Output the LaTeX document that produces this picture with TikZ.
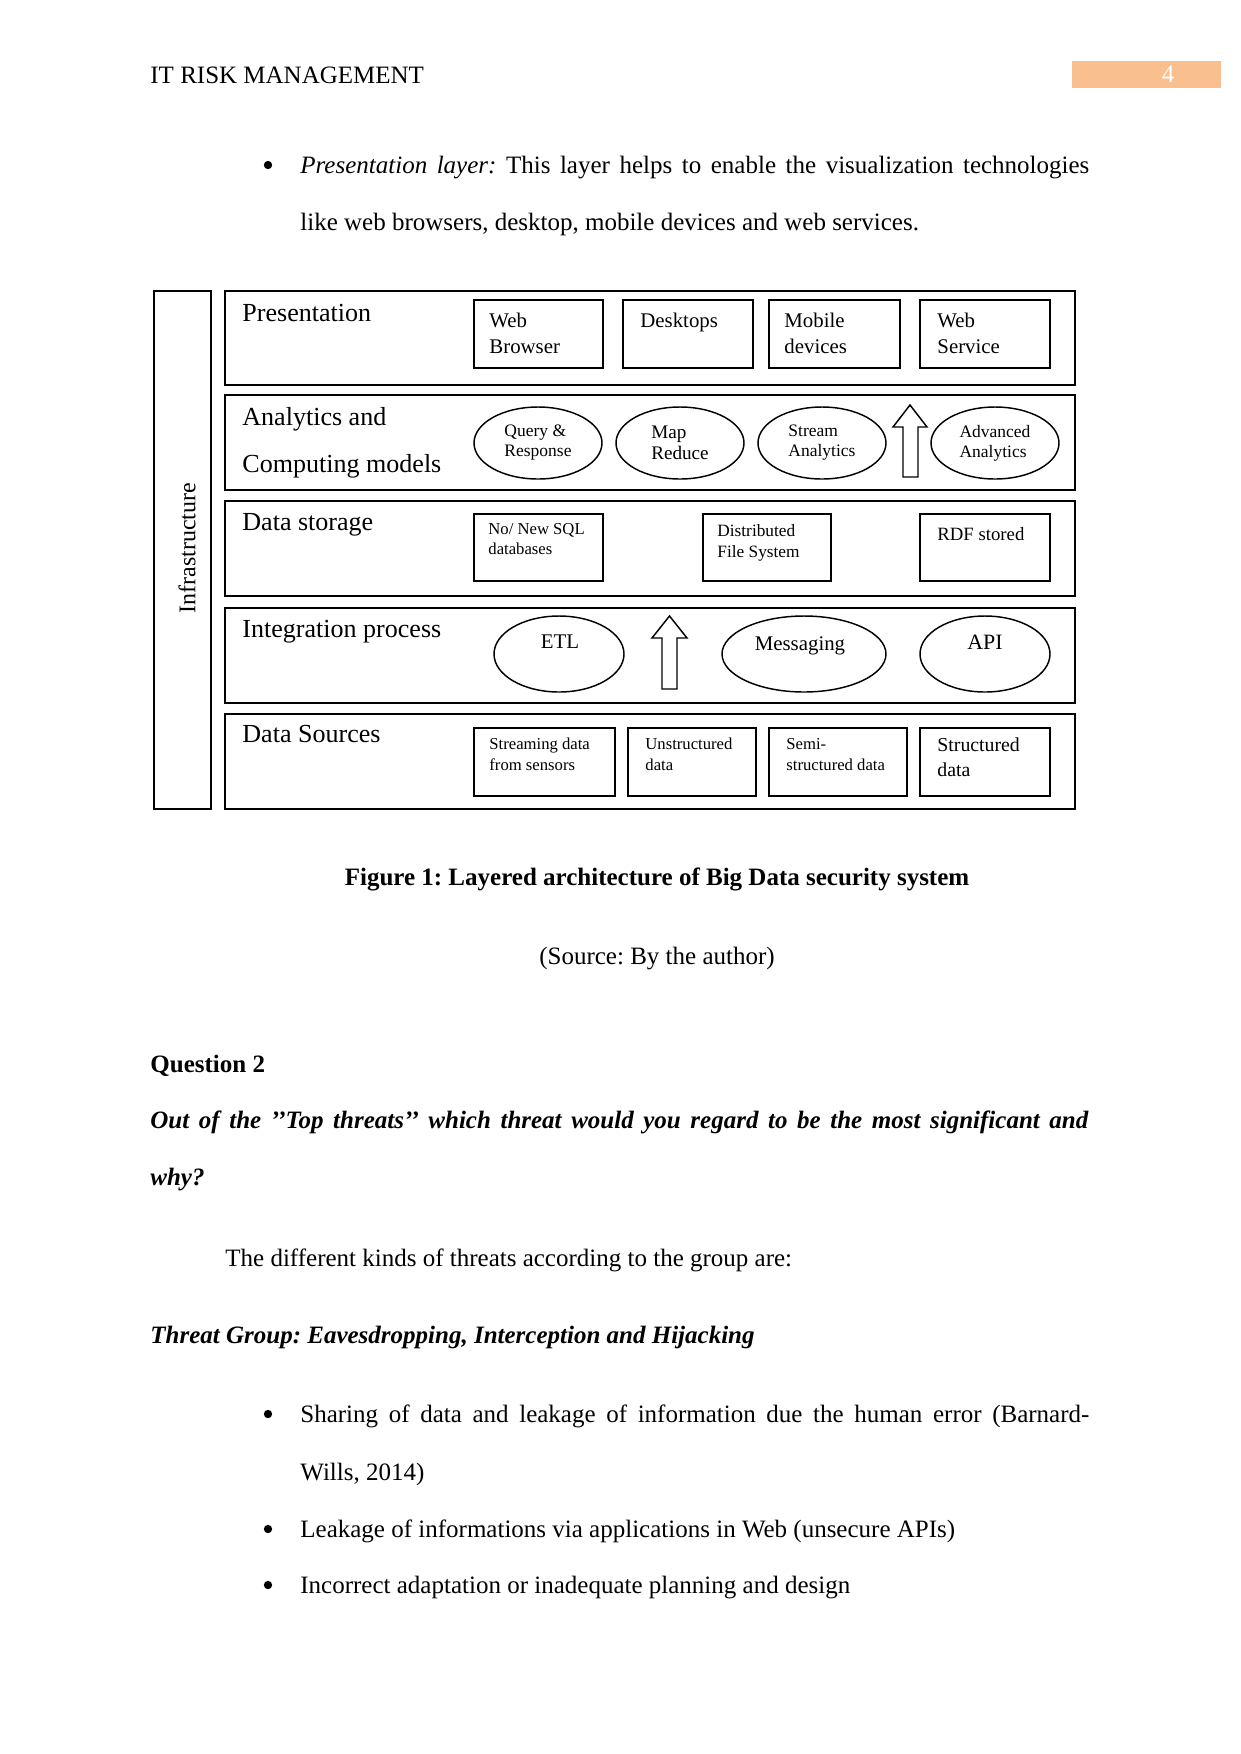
\documentclass[tikz,border=0pt]{standalone}
\usepackage{fontspec}
\setmainfont{Liberation Serif}
\usetikzlibrary{shapes.geometric}
\definecolor{pagenum}{HTML}{F9BF8F}
\frenchspacing

\tikzset{
  layer/.style={draw, line width=1.1pt, inner sep=0pt},
  ibox/.style={draw, line width=0.9pt, inner sep=0pt},
  oval/.style={draw, ellipse, line width=0.7pt, inner sep=0pt, align=left},
  ltxt/.style={anchor=base west, inner sep=0pt, font=\fontsize{12.5}{14}\selectfont},
  btxt/.style={anchor=north west, inner sep=0pt, align=left},
  body/.style={anchor=base west, inner sep=0pt, font=\fontsize{12}{14}\selectfont},
  dot/.style={circle, fill, inner sep=0pt, minimum size=4pt},
}

\begin{document}
\begin{tikzpicture}[x=0.48pt, y=-0.48pt, line join=miter]

  %% ════ page head ════
  \node[body] (hdr) at (150,83) {IT RISK MANAGEMENT};
  \node[fill=pagenum, inner sep=0pt, minimum width=149*0.48pt, minimum height=27*0.48pt] (pbox) at (1146.5,74.5) {};
  \node[body, anchor=base, text=white] (pnum) at (1168,82) {4};

  %% ════ first bullet ════
  \node[dot] (dot1) at (268,165) {};
  \node[body] (p1a) at (300,173) {\makebox[378.7pt][s]{\textit{Presentation layer:} This layer helps to enable the visualization technologies}};
  \node[body] (p1b) at (300,230) {like web browsers, desktop, mobile devices and web services.};

  %% ════ diagram: frames ════
  \node[layer, minimum width=57*0.48pt, minimum height=518*0.48pt] (infra) at (182.5,550) {};
  \node[rotate=90, inner sep=0pt, font=\fontsize{11.5}{13}\selectfont] (infratxt) at (187,548) {Infrastructure};

  \node[layer, minimum width=850*0.48pt, minimum height=94*0.48pt] (pres) at (650,338) {};
  \node[layer, minimum width=850*0.48pt, minimum height=95*0.48pt] (anly) at (650,442.5) {};
  \node[layer, minimum width=850*0.48pt, minimum height=95*0.48pt] (stor) at (650,548.5) {};
  \node[layer, minimum width=850*0.48pt, minimum height=95*0.48pt] (intg) at (650,655.5) {};
  \node[layer, minimum width=850*0.48pt, minimum height=95*0.48pt] (srcs) at (650,761.5) {};

  \node[ltxt] (prestxt) at (242,321) {Presentation};
  \node[ltxt] (anlytxta) at (242,425) {Analytics and};
  \node[ltxt] (anlytxtb) at (242,472) {Computing models};
  \node[ltxt] (stortxt) at (242,530) {Data storage};
  \node[ltxt] (intgtxt) at (242,637) {Integration process};
  \node[ltxt] (srcstxt) at (242,742) {Data Sources};

  %% ════ presentation row ════
  \node[ibox, minimum width=129*0.48pt, minimum height=68*0.48pt] (web) at (538.5,334) {};
  \node[ibox, minimum width=130*0.48pt, minimum height=68*0.48pt] (desk) at (688,334) {};
  \node[ibox, minimum width=131*0.48pt, minimum height=68*0.48pt] (mob) at (834.5,334) {};
  \node[ibox, minimum width=130*0.48pt, minimum height=68*0.48pt] (wsv) at (985,334) {};
  \node[btxt, font=\fontsize{10}{12.5}\selectfont] (webt) at (489,313) {Web\\Browser};
  \node[btxt, font=\fontsize{10}{12.5}\selectfont] (deskt) at (640,313) {Desktops};
  \node[btxt, font=\fontsize{10}{12.5}\selectfont] (mobt) at (784,313) {Mobile\\devices};
  \node[btxt, font=\fontsize{10}{12.5}\selectfont] (wsvt) at (937,313) {Web\\Service};

  %% ════ analytics row ════
  \node[oval, minimum width=128*0.48pt, minimum height=72*0.48pt, font=\fontsize{8.4}{9.6}\selectfont] (query) at (538,443) {Query \&\\Response};
  \node[oval, minimum width=128*0.48pt, minimum height=72*0.48pt, font=\fontsize{9.2}{10}\selectfont] (mapred) at (680,443) {Map\\Reduce};
  \node[oval, minimum width=128*0.48pt, minimum height=72*0.48pt, font=\fontsize{8.4}{9.6}\selectfont] (strm) at (822,443) {Stream\\Analytics};
  \node[oval, minimum width=128*0.48pt, minimum height=72*0.48pt, font=\fontsize{8.4}{9.6}\selectfont] (adv) at (995,443) {Advanced\\Analytics};
  \draw[line width=0.7pt] (903,477) -- (903,427) -- (893,427) -- (910,405) -- (927,427) -- (918,427) -- (918,477) -- cycle;

  %% ════ storage row ════
  \node[ibox, minimum width=129*0.48pt, minimum height=67*0.48pt] (nosql) at (538.5,547.5) {};
  \node[ibox, minimum width=128*0.48pt, minimum height=67*0.48pt] (dfs) at (767,547.5) {};
  \node[ibox, minimum width=130*0.48pt, minimum height=67*0.48pt] (rdf) at (985,547.5) {};
  \node[btxt, font=\fontsize{8}{9.6}\selectfont] (nosqlt) at (488,523) {No/ New SQL\\databases};
  \node[btxt, font=\fontsize{8.3}{10}\selectfont] (dfst) at (717,524) {Distributed\\File System};
  \node[btxt, font=\fontsize{9}{11}\selectfont] (rdft) at (937,527) {RDF stored};

  %% ════ integration row ════
  \node[oval, minimum width=130*0.48pt, minimum height=76*0.48pt] (etl) at (559,654) {};
  \node[oval, minimum width=164*0.48pt, minimum height=76*0.48pt] (msg) at (804,654) {};
  \node[oval, minimum width=130*0.48pt, minimum height=76*0.48pt] (api) at (985,654) {};
  \node[inner sep=0pt, font=\fontsize{10}{12}\selectfont] (etlt) at (560,642) {ETL};
  \node[inner sep=0pt, font=\fontsize{10}{12}\selectfont] (msgt) at (800,646) {Messaging};
  \node[inner sep=0pt, font=\fontsize{10.5}{12}\selectfont] (apit) at (985,642) {API};
  \draw[line width=0.7pt] (662,689) -- (662,638) -- (652,638) -- (669.5,616) -- (687,638) -- (677,638) -- (677,689) -- cycle;

  %% ════ sources row ════
  \node[ibox, minimum width=141*0.48pt, minimum height=68*0.48pt] (sens) at (544.5,762) {};
  \node[ibox, minimum width=128*0.48pt, minimum height=68*0.48pt] (unstr) at (692,762) {};
  \node[ibox, minimum width=138*0.48pt, minimum height=68*0.48pt] (semi) at (838,762) {};
  \node[ibox, minimum width=130*0.48pt, minimum height=68*0.48pt] (struc) at (985,762) {};
  \node[btxt, font=\fontsize{8}{10}\selectfont] (senst) at (489,738) {Streaming data\\from sensors};
  \node[btxt, font=\fontsize{8}{10}\selectfont] (unstrt) at (645,738) {Unstructured\\data};
  \node[btxt, font=\fontsize{8}{10}\selectfont] (semit) at (786,738) {Semi-\\structured data};
  \node[btxt, font=\fontsize{9.5}{12}\selectfont] (struct) at (937,737) {Structured\\data};

  %% ════ caption and text below ════
  \node[body, anchor=base, font=\fontsize{12}{14}\selectfont\bfseries] (cap) at (657,885) {Figure 1: Layered architecture of Big Data security system};
  \node[body, anchor=base] (src) at (657,964) {(Source: By the author)};

  \node[body, font=\fontsize{12}{14}\selectfont\bfseries] (q2) at (150,1072) {Question 2};
  \node[body, font=\fontsize{12}{14}\selectfont\bfseries\itshape] (q2a) at (150,1128) {\makebox[450.2pt][s]{Out of the ’’Top threats’’ which threat would you regard to be the most significant and}};
  \node[body, font=\fontsize{12}{14}\selectfont\bfseries\itshape] (q2b) at (150,1185) {why?};

  \node[body] (kinds) at (225,1266) {The different kinds of threats according to the group are:};
  \node[body, font=\fontsize{12}{14}\selectfont\bfseries\itshape] (grp) at (150,1343) {Threat Group: Eavesdropping, Interception and Hijacking};

  \node[dot] (dot2) at (268,1414) {};
  \node[body] (t1a) at (300,1422) {\makebox[378.7pt][s]{Sharing of data and leakage of information due the human error (Barnard-}};
  \node[body] (t1b) at (300,1480) {Wills, 2014)};
  \node[dot] (dot3) at (268,1529) {};
  \node[body] (t2) at (300,1537) {Leakage of informations via applications in Web (unsecure APIs)};
  \node[dot] (dot4) at (268,1585) {};
  \node[body] (t3) at (300,1593) {Incorrect adaptation or inadequate planning and design};

  % fix the page to the full sheet
  \pgfresetboundingbox
  \path[use as bounding box] (0,0) rectangle (1241,1754);
\end{tikzpicture}
\end{document}
